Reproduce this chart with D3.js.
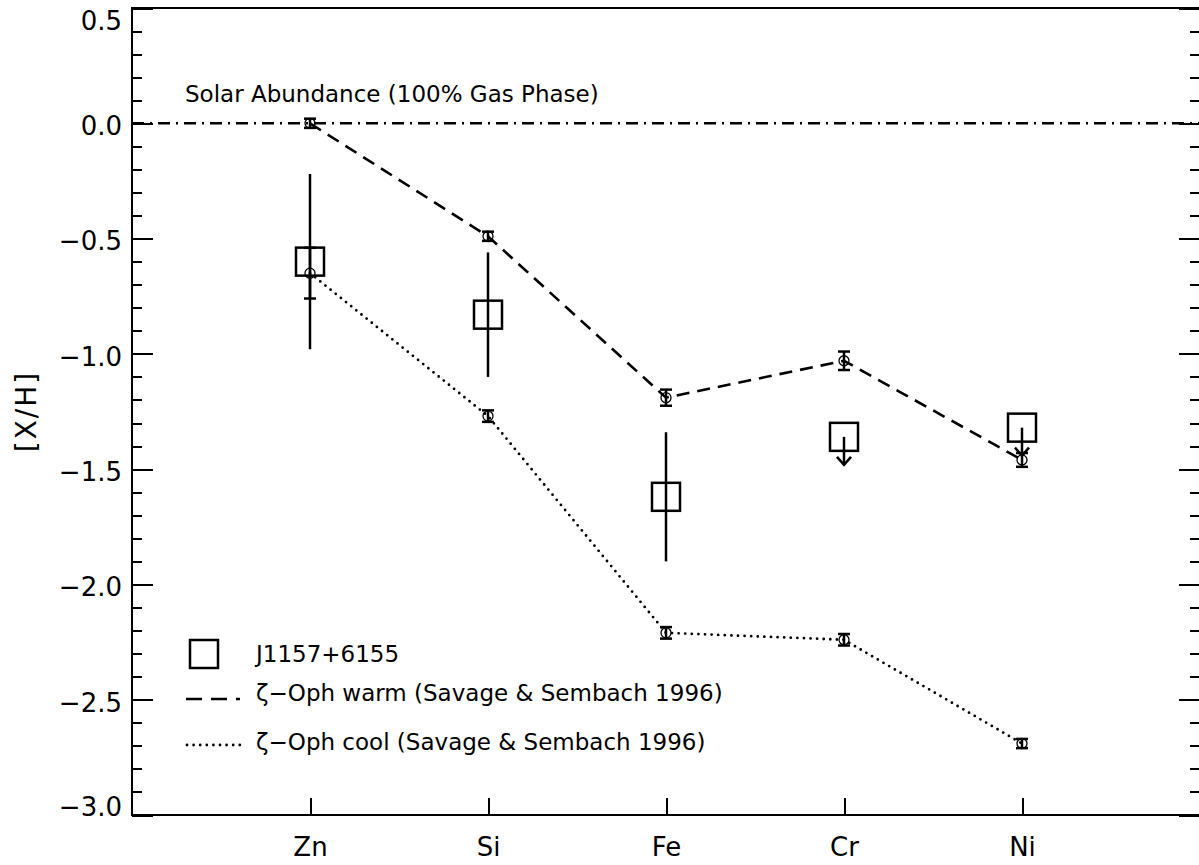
<!DOCTYPE html>
<html>
<head>
<meta charset="utf-8">
<script src="https://cdn.jsdelivr.net/npm/d3@7"></script>
<style>
  html, body { margin: 0; padding: 0; background: #fff; }
  svg { display: block; }
  text { font-family: "DejaVu Sans", sans-serif; fill: #000; }
</style>
</head>
<body>
<svg id="chart" width="1199" height="865"></svg>
<script>
// Element abundances [X/H] relative to solar
const elements = ["Zn", "Si", "Fe", "Cr", "Ni"];

// J1157+6155 measurements (last two are upper limits)
const j1157 = [-0.60, -0.83, -1.62, -1.36, -1.32];
const j1157Err = [0.38, 0.27, 0.28, 0, 0];
const j1157Limit = [false, false, false, true, true];

// zeta Oph warm and cool clouds (Savage & Sembach 1996)
const warm = [0.00, -0.49, -1.19, -1.03, -1.46];
const warmErr = [0.02, 0.02, 0.035, 0.04, 0.03];
const cool = [-0.65, -1.27, -2.21, -2.24, -2.69];
const coolErr = [0.11, 0.025, 0.025, 0.025, 0.02];

// Axis ticks
const yMajor = [-3.0, -2.5, -2.0, -1.5, -1.0, -0.5, 0.0, 0.5];
const yMinor = d3.range(-30, 6).map(d => d / 10);
const xTicks = [1, 2, 3, 4, 5];

const svg = d3.select("#chart");
const plotLeft = 132, plotRight = 1200, plotTop = 8, plotBottom = 815;

const x = d3.scaleLinear().domain([0, 6]).range([plotLeft, plotRight]);
const y = d3.scaleLinear().domain([-3.0, 0.5]).range([plotBottom, plotTop]);

const fmt = d3.format(".1f");
const minusFmt = d => fmt(d).replace("-", "\u2212");

// Frame
svg.append("rect")
  .attr("x", plotLeft).attr("y", plotTop)
  .attr("width", plotRight - plotLeft).attr("height", plotBottom - plotTop)
  .attr("fill", "none").attr("stroke", "#000").attr("stroke-width", 2)
  .attr("shape-rendering", "crispEdges");

function styleAxis(g) {
  g.select(".domain").remove();
  g.selectAll(".tick line").attr("stroke", "#000").attr("stroke-width", 2)
    .attr("shape-rendering", "crispEdges");
}

// Left axis: minor then major with labels
svg.append("g").attr("transform", `translate(${plotLeft},0)`)
  .call(d3.axisLeft(y).tickValues(yMinor).tickSize(-10).tickFormat(""))
  .call(styleAxis);
svg.append("g").attr("transform", `translate(${plotLeft},0)`)
  .call(d3.axisLeft(y).tickValues(yMajor).tickSize(-21).tickPadding(10).tickFormat(minusFmt))
  .call(styleAxis)
  .call(g => g.selectAll("text")
    .attr("font-size", 26).attr("fill", "#000")
    // end labels are nudged inside the frame
    .attr("y", d => d === 0.5 ? 13 : d === -3.0 ? -8 : 3));

// Right axis ticks
svg.append("g").attr("transform", `translate(${plotRight},0)`)
  .call(d3.axisRight(y).tickValues(yMinor).tickSize(-10).tickFormat(""))
  .call(styleAxis);
svg.append("g").attr("transform", `translate(${plotRight},0)`)
  .call(d3.axisRight(y).tickValues(yMajor).tickSize(-21).tickFormat(""))
  .call(styleAxis);

// Bottom axis with element names
svg.append("g").attr("transform", `translate(0,${plotBottom})`)
  .call(d3.axisBottom(x).tickValues(xTicks).tickSize(-17).tickPadding(23)
    .tickFormat(i => elements[i - 1]))
  .call(styleAxis)
  .call(g => g.selectAll("text").attr("font-size", 26).attr("fill", "#000"));

// Y axis title
svg.append("text")
  .attr("transform", `translate(36,${(plotTop + plotBottom) / 2}) rotate(-90)`)
  .attr("text-anchor", "middle")
  .attr("font-size", 28)
  .attr("letter-spacing", 2)
  .text("[X/H]");

// Solar reference line
svg.append("line")
  .attr("x1", plotLeft).attr("x2", plotRight)
  .attr("y1", y(0)).attr("y2", y(0))
  .attr("stroke", "#000").attr("stroke-width", 2.5)
  .attr("stroke-dasharray", "12,6,2,6");
svg.append("text")
  .attr("x", 185).attr("y", 102)
  .attr("font-size", 23)
  .text("Solar Abundance (100% Gas Phase)");

const pos = elements.map((_, i) => i + 1);
const line = d3.line().x(d => x(d[0])).y(d => y(d[1]));

// Warm cloud: dashed
svg.append("path")
  .datum(pos.map((p, i) => [p, warm[i]]))
  .attr("d", line)
  .attr("fill", "none").attr("stroke", "#000").attr("stroke-width", 2.6)
  .attr("stroke-dasharray", "13,8");

// Cool cloud: dotted
svg.append("path")
  .datum(pos.map((p, i) => [p, cool[i]]))
  .attr("d", line)
  .attr("fill", "none").attr("stroke", "#000").attr("stroke-width", 2.8)
  .attr("stroke-linecap", "round")
  .attr("stroke-dasharray", "0,6.6");

// Small circles with error bars for the zeta Oph points
function drawSmall(vals, errs) {
  const g = svg.append("g");
  vals.forEach((v, i) => {
    const cx = x(pos[i]);
    const y1 = y(v + errs[i]), y2 = y(v - errs[i]);
    g.append("line").attr("x1", cx).attr("x2", cx).attr("y1", y1).attr("y2", y2)
      .attr("stroke", "#000").attr("stroke-width", 2.5);
    [y1, y2].forEach(yy => g.append("line")
      .attr("x1", cx - 6).attr("x2", cx + 6).attr("y1", yy).attr("y2", yy)
      .attr("stroke", "#000").attr("stroke-width", 2.5));
    g.append("circle").attr("cx", cx).attr("cy", y(v)).attr("r", 5)
      .attr("fill", "none").attr("stroke", "#000").attr("stroke-width", 1.3);
  });
}
drawSmall(warm, warmErr);
drawSmall(cool, coolErr);

// J1157+6155: open squares, error bars, upper-limit arrows
const sq = 28;
const jg = svg.append("g");
j1157.forEach((v, i) => {
  const cx = x(pos[i]), cy = y(v);
  if (j1157Limit[i]) {
    const tip = cy + 28;
    jg.append("line").attr("x1", cx).attr("x2", cx).attr("y1", cy).attr("y2", tip)
      .attr("stroke", "#000").attr("stroke-width", 2.5);
    jg.append("path")
      .attr("d", `M${cx - 7},${tip - 8}L${cx},${tip}L${cx + 7},${tip - 8}`)
      .attr("fill", "none").attr("stroke", "#000").attr("stroke-width", 2.5);
  } else {
    jg.append("line").attr("x1", cx).attr("x2", cx)
      .attr("y1", y(v + j1157Err[i])).attr("y2", y(v - j1157Err[i]))
      .attr("stroke", "#000").attr("stroke-width", 2.5);
  }
  jg.append("rect")
    .attr("x", cx - sq / 2).attr("y", cy - sq / 2)
    .attr("width", sq).attr("height", sq)
    .attr("fill", "none").attr("stroke", "#000").attr("stroke-width", 2.5);
});

// Legend
const lg = svg.append("g");
lg.append("rect").attr("x", 190).attr("y", 640).attr("width", sq).attr("height", sq)
  .attr("fill", "none").attr("stroke", "#000").attr("stroke-width", 2.5);
lg.append("text").attr("x", 256).attr("y", 662).attr("font-size", 23).text("J1157+6155");
lg.append("line").attr("x1", 186).attr("x2", 240).attr("y1", 699).attr("y2", 699)
  .attr("stroke", "#000").attr("stroke-width", 2.6).attr("stroke-dasharray", "16,9");
lg.append("text").attr("x", 256).attr("y", 701).attr("font-size", 23)
  .text("\u03B6\u2212Oph warm (Savage & Sembach 1996)");
lg.append("line").attr("x1", 187).attr("x2", 240).attr("y1", 745).attr("y2", 745)
  .attr("stroke", "#000").attr("stroke-width", 2.8).attr("stroke-linecap", "round")
  .attr("stroke-dasharray", "0,6.6");
lg.append("text").attr("x", 256).attr("y", 750).attr("font-size", 23)
  .text("\u03B6\u2212Oph cool (Savage & Sembach 1996)");
</script>
</body>
</html>
